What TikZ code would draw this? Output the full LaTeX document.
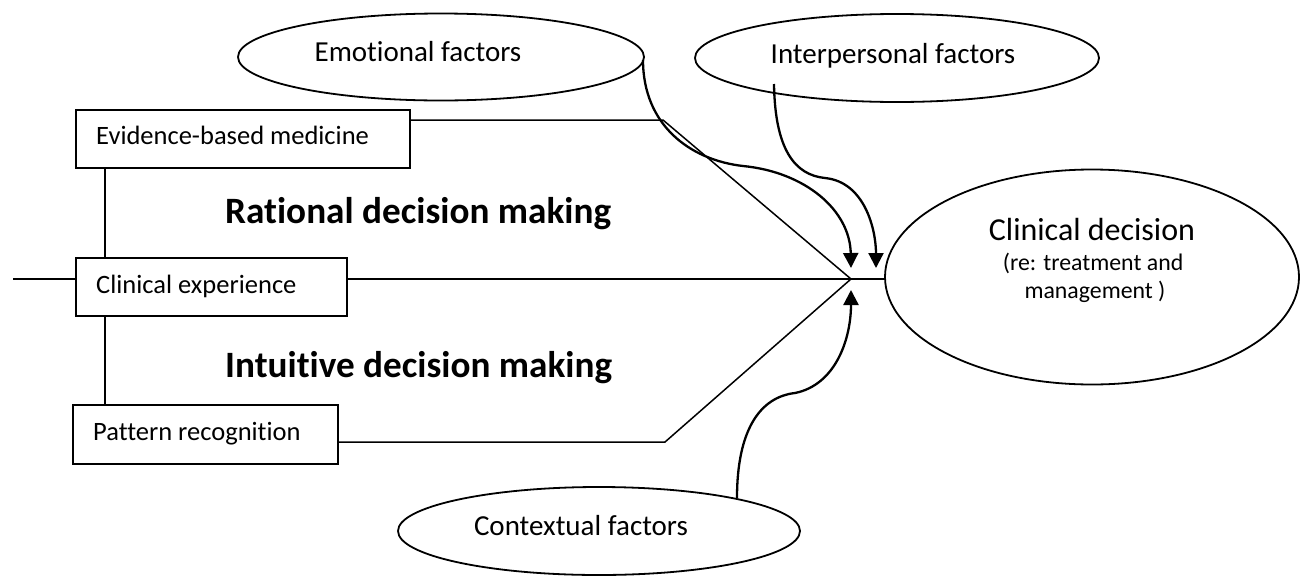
\documentclass[tikz,border=0pt]{standalone}
\usepackage{fontspec}
\setmainfont{Carlito}[Ligatures={NoCommon,NoRequired,NoContextual}]
\usetikzlibrary{shapes.geometric,arrows.meta}
\tikzset{
  boxnode/.style={draw,line width=1.6pt,inner sep=0pt,anchor=north west},
  ellnode/.style={draw,ellipse,line width=1.8pt,inner sep=0pt},
  conn/.style={line width=1.5pt},
  infl/.style={line width=2.3pt,-{Triangle[length=15pt,width=15pt]}},
  lbl/.style={anchor=base,inner sep=0pt,font=\fontsize{26.5}{30}\selectfont},
  elbl/.style={anchor=base,inner sep=0pt,font=\fontsize{29}{33}\selectfont},
  bold/.style={anchor=base west,inner sep=0pt,font=\fontsize{37.2}{42}\selectfont\bfseries},
}
\begin{document}
\begin{tikzpicture}[x=1pt,y=-1pt]
\useasboundingbox (0,0) rectangle (1301,576);
% boxes
\node[boxnode,minimum width=334pt,minimum height=58pt] (ebm) at (75,109) {};
\node[boxnode,minimum width=271pt,minimum height=58pt] (ce) at (75,257) {};
\node[boxnode,minimum width=265pt,minimum height=59pt] (pr) at (72,404) {};
\node[lbl,anchor=base west] (ebmt) at (96,144) {Evidence-based medicine};
\node[lbl,anchor=base west] (cet) at (96,293) {Clinical experience};
\node[lbl,anchor=base west] (prt) at (93,440) {Pattern recognition};
% ellipses
\node[ellnode,minimum width=406pt,minimum height=87pt] (emo) at (441,57) {};
\node[ellnode,minimum width=404pt,minimum height=88pt] (inter) at (897,58) {};
\node[ellnode,minimum width=402pt,minimum height=88pt] (ctx) at (599,531) {};
\node[ellnode,minimum width=414pt,minimum height=215pt] (cd) at (1092,277) {};
\node[elbl] (emot) at (418,61) {Emotional factors};
\node[elbl] (intert) at (893,63) {Interpersonal factors};
\node[elbl] (ctxt) at (581,535) {Contextual factors};
\node[anchor=base,inner sep=0pt,font=\fontsize{32}{36}\selectfont] (cdt) at (1092,240) {Clinical decision};
\node[anchor=base,inner sep=0pt,font=\fontsize{23.8}{28}\selectfont] (cdt2) at (1093,270) {(re: treatment and};
\node[anchor=base,inner sep=0pt,font=\fontsize{23.8}{28}\selectfont] (cdt3) at (1095,298) {management )};
% bold labels
\node[bold] (rat) at (225,223) {Rational decision making};
\node[bold] (intu) at (225,377) {Intuitive decision making};
% coordinates
\coordinate (conv) at (851,279);
\coordinate (lstub) at (13,279);
\coordinate (ebmK) at (663,120);
\coordinate (prK) at (665,442);
\coordinate (vx) at (105,0);
% connectors
\draw[conn] (lstub) -- (ce.west |- conv);
\draw[conn] (ce.east |- conv) -- (conv) -- (cd.west |- conv);
\draw[conn] (ebm.east |- ebmK) -- (ebmK) -- (conv);
\draw[conn] (pr.east |- prK) -- (prK) -- (conv);
\draw[conn] (ebm.south -| vx) -- (ce.north -| vx);
\draw[conn] (ce.south -| vx) -- (pr.north -| vx);
% influence curves
\coordinate (emoS) at (643,60);
\coordinate (emoM) at (743,166);
\coordinate (emoE) at (851,268);
\draw[infl] (emoS) .. controls (643,125) and (690,160) .. (emoM) .. controls (805,172) and (850,210) .. (emoE);
\coordinate (intS) at (774,84);
\coordinate (intM) at (825,178);
\coordinate (intE) at (876,268);
\draw[infl] (intS) .. controls (775,150) and (795,175) .. (intM) .. controls (865,182) and (876,230) .. (intE);
\coordinate (ctxS) at (737,498);
\coordinate (ctxM) at (795,393);
\coordinate (ctxE) at (851,290);
\draw[infl] (ctxS) .. controls (737,430) and (760,397) .. (ctxM) .. controls (835,385) and (851,340) .. (ctxE);
\end{tikzpicture}
\end{document}
